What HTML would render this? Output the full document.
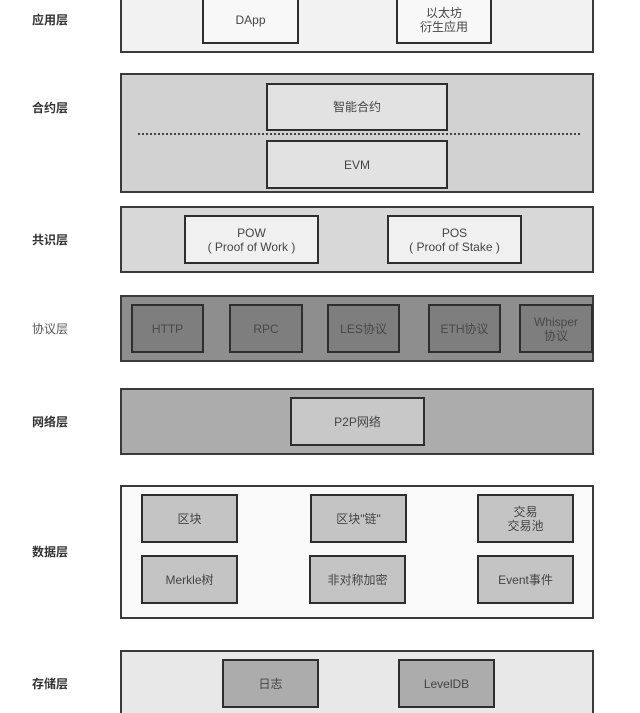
<!DOCTYPE html>
<html><head><meta charset="utf-8"><style>
html,body{margin:0;padding:0;background:#fff;width:640px;height:713px;overflow:hidden;position:relative;font-family:"Liberation Sans","Noto Sans CJK SC",sans-serif}
.l{position:absolute;left:32px;width:40px;font-size:12px;font-weight:bold;color:#333;text-align:left;line-height:14px}
.lay{position:absolute;left:120px;width:474px;border:2px solid #3a3a3a;box-sizing:border-box}
.b{position:absolute;border:2px solid #2e2e2e;box-sizing:border-box;display:flex;align-items:center;justify-content:center;text-align:center;font-size:12px;line-height:14px;color:#444}
</style></head><body>
<div class="l" style="top:13px">应用层</div>
<div class="lay" style="top:-4px;height:57px;background:#f2f2f2"></div>
<div class="b" style="left:202px;top:-4px;width:97px;height:48px;background:#f8f8f8">DApp</div>
<div class="b" style="left:396px;top:-4px;width:96px;height:48px;background:#f8f8f8">以太坊<br>衍生应用</div>

<div class="l" style="top:101px">合约层</div>
<div class="lay" style="top:73px;height:120px;background:#d2d2d2"></div>
<div class="b" style="left:266px;top:83px;width:182px;height:48px;background:#e2e2e2">智能合约</div>
<div style="position:absolute;left:138px;top:133px;width:442px;border-top:2px dotted #444"></div>
<div class="b" style="left:266px;top:140px;width:182px;height:49px;background:#e2e2e2">EVM</div>

<div class="l" style="top:233px">共识层</div>
<div class="lay" style="top:206px;height:67px;background:#d8d8d8"></div>
<div class="b" style="left:184px;top:215px;width:135px;height:49px;background:#f0f0f0">POW<br>( Proof of Work )</div>
<div class="b" style="left:387px;top:215px;width:135px;height:49px;background:#f0f0f0">POS<br>( Proof of Stake )</div>

<div class="l" style="top:322px;font-weight:normal;color:#555">协议层</div>
<div class="lay" style="top:295px;height:67px;background:#8e8e8e"></div>
<div class="b" style="left:131px;top:304px;width:73px;height:49px;background:#7e7e7e;color:#484848">HTTP</div>
<div class="b" style="left:229px;top:304px;width:74px;height:49px;background:#7e7e7e;color:#484848">RPC</div>
<div class="b" style="left:327px;top:304px;width:73px;height:49px;background:#7e7e7e;color:#484848">LES协议</div>
<div class="b" style="left:428px;top:304px;width:73px;height:49px;background:#7e7e7e;color:#484848">ETH协议</div>
<div class="b" style="left:519px;top:304px;width:74px;height:49px;background:#7e7e7e;color:#484848">Whisper<br>协议</div>

<div class="l" style="top:415px">网络层</div>
<div class="lay" style="top:388px;height:67px;background:#acacac"></div>
<div class="b" style="left:290px;top:397px;width:135px;height:49px;background:#c8c8c8">P2P网络</div>

<div class="l" style="top:545px">数据层</div>
<div class="lay" style="top:485px;height:134px;background:#fafafa"></div>
<div class="b" style="left:141px;top:494px;width:97px;height:49px;background:#c4c4c4">区块</div>
<div class="b" style="left:310px;top:494px;width:97px;height:49px;background:#c4c4c4">区块"链"</div>
<div class="b" style="left:477px;top:494px;width:97px;height:49px;background:#c4c4c4">交易<br>交易池</div>
<div class="b" style="left:141px;top:555px;width:97px;height:49px;background:#c4c4c4">Merkle树</div>
<div class="b" style="left:309px;top:555px;width:97px;height:49px;background:#c4c4c4">非对称加密</div>
<div class="b" style="left:477px;top:555px;width:97px;height:49px;background:#c4c4c4">Event事件</div>

<div class="l" style="top:677px">存储层</div>
<div class="lay" style="top:650px;height:70px;background:#e8e8e8"></div>
<div class="b" style="left:222px;top:659px;width:97px;height:49px;background:#acacac">日志</div>
<div class="b" style="left:398px;top:659px;width:97px;height:49px;background:#acacac">LevelDB</div>
</body></html>
